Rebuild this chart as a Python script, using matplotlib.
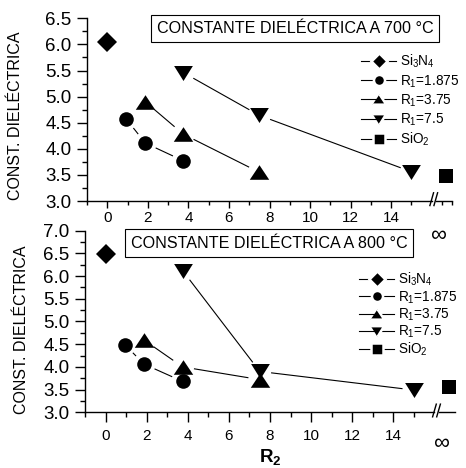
import numpy as np
import matplotlib
matplotlib.use('Agg')
import matplotlib.pyplot as plt
from matplotlib.lines import Line2D
from matplotlib.ticker import FixedLocator, FixedFormatter

plt.rcParams['font.family'] = ['Liberation Sans', 'DejaVu Sans']
plt.rcParams['mathtext.fontset'] = 'custom'
plt.rcParams['mathtext.rm'] = 'Liberation Sans'
plt.rcParams['mathtext.it'] = 'Liberation Sans:italic'
plt.rcParams['mathtext.bf'] = 'Liberation Sans:bold'

# R2 values for each R1 series
r2_r1_1875 = [0.9375, 1.875, 3.75]
r2_r1_375 = [1.875, 3.75, 7.5]
r2_r1_75 = [3.75, 7.5, 15.0]
r2_si3n4 = 0.0
r2_sio2 = 16.7   # plotted after the axis break (R2 = infinity)

# dielectric constant at 700 C
k700_si3n4 = 6.05
k700_1875 = [4.57, 4.11, 3.77]
k700_375 = [4.90, 4.28, 3.55]
k700_75 = [5.46, 4.64, 3.56]
k700_sio2 = 3.47

# dielectric constant at 800 C
k800_si3n4 = 6.48
k800_1875 = [4.49, 4.06, 3.68]
k800_375 = [4.59, 4.00, 3.72]
k800_75 = [6.12, 3.90, 3.49]
k800_sio2 = 3.56

labels = ['Si$_3$N$_4$', 'R$_1$=1.875', 'R$_1$=3.75', 'R$_1$=7.5', 'SiO$_2$']
titles = ['CONSTANTE DIELÉCTRICA A 700 °C', 'CONSTANTE DIELÉCTRICA A 800 °C']

tri_up = [(-1, -0.75), (1, -0.75), (0, 0.75)]
tri_dn = [(-1, 0.8), (1, 0.8), (0, -0.8)]
markers = ['D', 'o', tri_up, tri_dn, 's']
msizes = [10, 10.5, 14, 13.5, 10.5]

W, H = 466, 468
fig = plt.figure(figsize=(W / 100, H / 100), dpi=100)


def gapped_line(ax, xs, ys, gap=12):
    # Origin style: line segments stop short of the symbols
    pts = ax.transData.transform(np.column_stack([xs, ys]))
    inv = ax.transData.inverted()
    for p0, p1 in zip(pts[:-1], pts[1:]):
        d = p1 - p0
        u = d / np.hypot(*d)
        a = inv.transform(p0 + u * gap)
        b = inv.transform(p1 - u * gap)
        ax.plot([a[0], b[0]], [a[1], b[1]], color='k', lw=0.8)


def panel(rect, ylim, k_si3n4, k1, k2, k3, k_sio2, title, title_xy, leg_xy,
          leg_sp, ylab_xy, extra_minor, xtick_len, xpad, inf_y):
    ax = fig.add_axes(rect)
    ax.patch.set_visible(False)
    ax.set_xlim(-1, 17)
    ax.set_ylim(*ylim)
    for s in ['top', 'right']:
        ax.spines[s].set_visible(False)
    ax.spines['left'].set_linewidth(1.0)
    ax.spines['bottom'].set_linewidth(1.0)
    ax.spines['bottom'].set_bounds(-1, 16.0)

    yt = np.arange(ylim[0], ylim[1] + 0.01, 0.5)
    ax.xaxis.set_major_locator(FixedLocator(np.arange(0, 15, 2)))
    ax.xaxis.set_minor_locator(FixedLocator(list(np.arange(-1, 16, 2)) + extra_minor))
    ax.yaxis.set_major_locator(FixedLocator(yt))
    ax.yaxis.set_minor_locator(FixedLocator(np.arange(ylim[0], ylim[1] + 0.01, 0.25)))
    ax.yaxis.set_major_formatter(FixedFormatter(['%.1f' % v for v in yt]))
    ax.tick_params(axis='y', which='major', length=7.5, width=1, labelsize=13.5, pad=3.5)
    ax.tick_params(axis='y', which='minor', length=3.6, width=1)
    ax.tick_params(axis='x', which='major', length=xtick_len, width=1, labelsize=11, pad=xpad)
    ax.tick_params(axis='x', which='minor', length=xtick_len * 0.55, width=1)

    # continuation of x axis after the break + break marks
    tr = ax.get_xaxis_transform()
    ax.plot([16.2, 17], [0, 0], color='k', lw=1.0, transform=tr, clip_on=False)
    for xb in [16.0, 16.2]:
        ax.plot([xb - 0.09, xb + 0.09], [-0.025, 0.045], color='k', lw=1.0,
                transform=tr, clip_on=False)
    ax.text(16.3, inf_y, '∞', transform=tr, ha='center', va='center', fontsize=16)

    gapped_line(ax, r2_r1_1875, k1)
    gapped_line(ax, r2_r1_375, k2)
    gapped_line(ax, r2_r1_75, k3)

    series = [([r2_si3n4], [k_si3n4]), (r2_r1_1875, k1), (r2_r1_375, k2),
              (r2_r1_75, k3), ([r2_sio2], [k_sio2])]
    for (xs, ys), m, ms in zip(series, markers, msizes):
        ax.plot(xs, ys, ls='none', marker=m, ms=ms, mfc='k', mec='k', mew=0,
                clip_on=False, zorder=3)

    handles = [Line2D([], [], color='k', lw=0.8, marker=m, ms=ms * 0.55 + 2.2,
                      mfc='k', mec='w', mew=1.8)
               for m, ms in zip(markers, msizes)]
    fig.legend(handles, labels, loc='upper left',
               bbox_to_anchor=(leg_xy[0] / W, 1 - leg_xy[1] / H),
               frameon=False, fontsize=9.8, handlelength=2.6, handletextpad=0.3,
               labelspacing=leg_sp, borderpad=0, borderaxespad=0)

    fig.text(title_xy[0] / W, 1 - title_xy[1] / H, title, ha='center', va='center',
             fontsize=11.6,
             bbox=dict(boxstyle='square,pad=0.38', fc='w', ec='k', lw=0.8))
    fig.text(ylab_xy[0] / W, 1 - ylab_xy[1] / H, 'CONST. DIELÉCTRICA',
             rotation=90, ha='center', va='center', fontsize=11.5)
    return ax


ax1 = panel([87 / W, (H - 201) / H, 365 / W, (201 - 18.3) / H], (3.0, 6.5),
            k700_si3n4, k700_1875, k700_375, k700_75, k700_sio2, titles[0],
            (295, 28.7), (361, 53), 0.2, (16, 116), [16.5, 17], 5, 2, -0.19)
ax2 = panel([85 / W, (H - 412.3) / H, 370 / W, (412.3 - 230.7) / H], (3.0, 7.0),
            k800_si3n4, k800_1875, k800_375, k800_75, k800_sio2, titles[1],
            (269, 243), (359, 271), 0.06, (22, 330), [], 7, 5, -0.17)

ax2.set_xlabel('R$_\\mathbf{2}$', fontsize=13.5, fontweight='bold', labelpad=3)

fig.savefig('out.png', dpi=100)
